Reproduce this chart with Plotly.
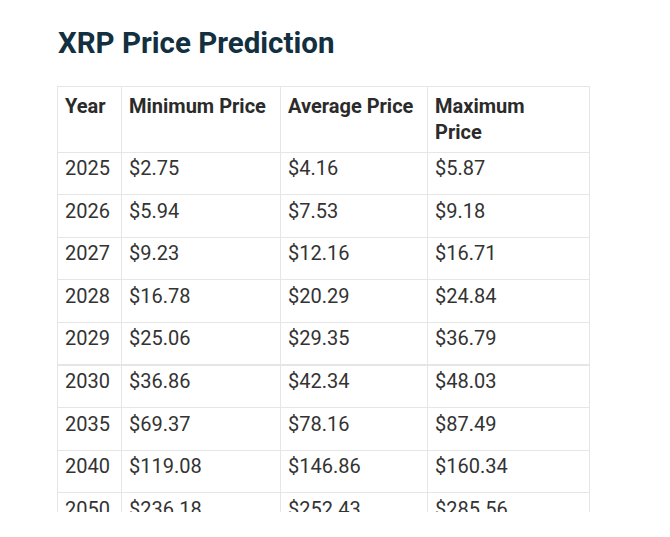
import plotly.graph_objects as go

years = ["2025", "2026", "2027", "2028", "2029", "2030", "2035", "2040", "2050"]
min_price = ["$2.75", "$5.94", "$9.23", "$16.78", "$25.06", "$36.86", "$69.37", "$119.08", "$236.18"]
avg_price = ["$4.16", "$7.53", "$12.16", "$20.29", "$29.35", "$42.34", "$78.16", "$146.86", "$252.43"]
max_price = ["$5.87", "$9.18", "$16.71", "$24.84", "$36.79", "$48.03", "$87.49", "$160.34", "$285.56"]
headers = ["Year", "Minimum Price", "Average Price", "Maximum Price"]

W, H = 670, 537
border = "#e6e6e6"
# page body adds ~8px offset, so positions are shifted back by that
off = 8

fig = go.Figure(go.Table(
    domain=dict(x=[(57 - off) / W, (589 - off) / W],
                y=[1 - (512 - off) / H, 1 - (86 - off) / H]),
    columnwidth=[64, 159, 147, 162],
    header=dict(
        values=[f"<b>{h}</b>" for h in headers],
        fill_color="white",
        line_color=border,
        align="left",
        height=42.6,
        font=dict(family="Roboto", size=20, color="#2b2b2b"),
    ),
    cells=dict(
        values=[years, min_price, avg_price, max_price],
        fill_color="white",
        line_color=border,
        align="left",
        height=42.6,
        font=dict(family="Roboto", size=20, color="#333333"),
    ),
))

fig.add_annotation(
    text="<b>XRP Price Prediction</b>",
    xref="paper", yref="paper", x=(56 - off) / W, y=1 - (43 - off) / H,
    xanchor="left", yanchor="middle", showarrow=False,
    font=dict(family="Roboto", size=29.5, color="#12303f"),
)

fig.update_layout(
    width=W, height=H,
    margin=dict(l=0, r=0, t=0, b=0),
    paper_bgcolor="white",
)

fig.write_html("out.html")
